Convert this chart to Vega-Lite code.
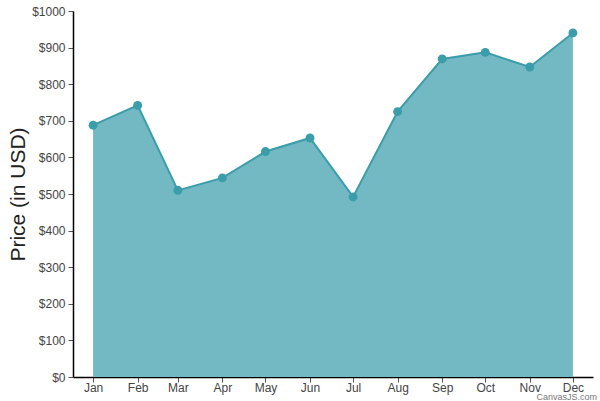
{
  "$schema": "https://vega.github.io/schema/vega-lite/v6.json",
  "width": 520,
  "height": 366,
  "autosize": {"type": "none"},
  "padding": {"left": 73, "top": 11, "right": 7, "bottom": 24},
  "background": "white",
  "config": {
    "view": {"stroke": null},
    "font": "Liberation Sans",
    "axis": {"labelFont": "Liberation Sans", "titleFont": "Liberation Sans"}
  },
  "title": {
    "text": "CanvasJS.com",
    "orient": "bottom",
    "anchor": "end",
    "fontSize": 9,
    "fontWeight": "normal",
    "color": "#777777",
    "font": "Liberation Sans",
    "offset": -3,
    "dy": 3,
    "dx": 4
  },
  "data": {
    "values": [
      {"month": "2017-01-01", "price": 688},
      {"month": "2017-02-01", "price": 742},
      {"month": "2017-03-01", "price": 510},
      {"month": "2017-04-01", "price": 544},
      {"month": "2017-05-01", "price": 616},
      {"month": "2017-06-01", "price": 653},
      {"month": "2017-07-01", "price": 492},
      {"month": "2017-08-01", "price": 725},
      {"month": "2017-09-01", "price": 869},
      {"month": "2017-10-01", "price": 887},
      {"month": "2017-11-01", "price": 847},
      {"month": "2017-12-01", "price": 940}
    ]
  },
  "encoding": {
    "x": {
      "field": "month",
      "type": "temporal",
      "scale": {"type": "utc", "domain": ["2016-12-18", "2017-12-15"]},
      "axis": {
        "title": null,
        "labelExpr": "utcFormat(datum.value, '%b')",
        "labelOverlap": false,
        "values": ["2017-01-01", "2017-02-01", "2017-03-01", "2017-04-01", "2017-05-01", "2017-06-01", "2017-07-01", "2017-08-01", "2017-09-01", "2017-10-01", "2017-11-01", "2017-12-01"],
        "grid": false,
        "domainColor": "#000000",
        "domainWidth": 1.5,
        "tickColor": "#555555",
        "tickSize": 5,
        "labelFontSize": 12,
        "labelColor": "#444444",
        "labelPadding": 0,
        "labelFlush": false
      }
    },
    "y": {
      "field": "price",
      "type": "quantitative",
      "scale": {"domain": [0, 1000], "nice": false},
      "axis": {
        "title": "Price (in USD)",
        "titleFontSize": 21,
        "titleFontWeight": "normal",
        "titleColor": "#222222",
        "titlePadding": 3,
        "values": [0, 100, 200, 300, 400, 500, 600, 700, 800, 900, 1000],
        "labelExpr": "'$' + datum.value",
        "labelOverlap": false,
        "grid": false,
        "domainColor": "#000000",
        "domainWidth": 1.5,
        "tickColor": "#555555",
        "tickSize": 5,
        "labelFontSize": 12,
        "labelColor": "#444444",
        "labelPadding": 3
      }
    }
  },
  "layer": [
    {
      "mark": {"type": "area", "color": "#72B9C4", "opacity": 1}
    },
    {
      "mark": {"type": "line", "color": "#3A9DA9", "strokeWidth": 2}
    },
    {
      "mark": {"type": "point", "shape": "circle", "filled": true, "size": 80, "color": "#3A9DA9", "opacity": 1}
    }
  ]
}
